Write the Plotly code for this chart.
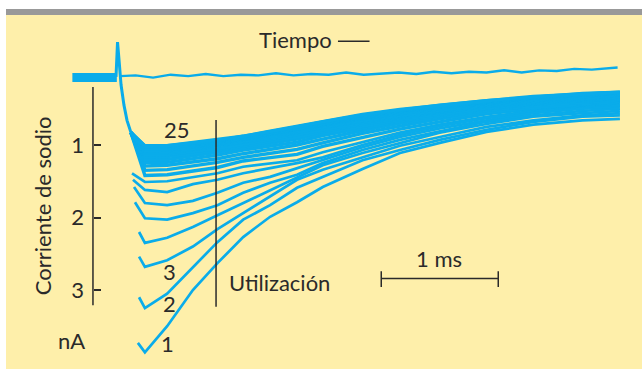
import plotly.graph_objects as go

# ---- data (time in ms from pulse onset, current in nA, inward plotted downward) ----
grid_t = [0.23, 0.42, 0.64, 0.85, 1.07, 1.30, 1.53, 1.75, 2.09, 2.41, 2.75, 3.15, 3.55, 3.97, 4.29]

# pulse number -> (start time, start current, currents on grid_t)
trace_1 = (0.17, 3.73, [3.86, 3.50, 3.00, 2.63, 2.27, 1.99, 1.79, 1.58, 1.33, 1.11, 0.97, 0.82, 0.72, 0.66, 0.64])
trace_2 = (0.18, 3.10, [3.25, 3.05, 2.68, 2.34, 2.03, 1.83, 1.59, 1.44, 1.21, 1.07, 0.93, 0.79, 0.68, 0.61, 0.59])
trace_3 = (0.18, 2.54, [2.68, 2.59, 2.40, 2.16, 1.94, 1.72, 1.48, 1.34, 1.17, 1.01, 0.89, 0.75, 0.66, 0.59, 0.56])
trace_4 = (0.18, 2.20, [2.35, 2.28, 2.13, 1.97, 1.80, 1.62, 1.44, 1.28, 1.11, 0.97, 0.83, 0.71, 0.61, 0.56, 0.53])
trace_5 = (0.145, 1.79, [2.01, 2.03, 1.94, 1.83, 1.66, 1.52, 1.41, 1.25, 1.07, 0.93, 0.81, 0.68, 0.59, 0.53, 0.50])
trace_6 = (0.137, 1.58, [1.80, 1.83, 1.77, 1.66, 1.52, 1.44, 1.32, 1.21, 1.03, 0.89, 0.77, 0.66, 0.56, 0.50, 0.48])
trace_7 = (0.128, 1.48, [1.62, 1.65, 1.54, 1.48, 1.39, 1.32, 1.25, 1.17, 1.00, 0.86, 0.74, 0.63, 0.54, 0.49, 0.46])
trace_8 = (0.12, 1.39, [1.51, 1.50, 1.44, 1.39, 1.30, 1.25, 1.21, 1.10, 0.96, 0.83, 0.72, 0.61, 0.53, 0.48, 0.45])

# later pulses crowd together into a band
band_start = (0.111, 0.83)
band_traces = [
    [1.42, 1.41, 1.36, 1.31, 1.22, 1.17, 1.13, 1.02, 0.90, 0.78, 0.68, 0.57, 0.50, 0.45, 0.42],
    [1.35, 1.34, 1.29, 1.24, 1.17, 1.11, 1.06, 0.97, 0.84, 0.74, 0.64, 0.55, 0.48, 0.43, 0.40],
    [1.29, 1.28, 1.23, 1.19, 1.12, 1.06, 1.00, 0.92, 0.80, 0.70, 0.61, 0.52, 0.46, 0.41, 0.38],
    [1.24, 1.24, 1.19, 1.14, 1.07, 1.01, 0.96, 0.87, 0.77, 0.67, 0.59, 0.50, 0.44, 0.39, 0.37],
    [1.20, 1.20, 1.15, 1.10, 1.04, 0.98, 0.92, 0.84, 0.74, 0.65, 0.57, 0.49, 0.43, 0.38, 0.36],
    [1.17, 1.16, 1.12, 1.07, 1.01, 0.95, 0.89, 0.81, 0.71, 0.63, 0.55, 0.47, 0.42, 0.37, 0.35],
    [1.14, 1.13, 1.09, 1.05, 0.99, 0.92, 0.86, 0.79, 0.69, 0.61, 0.54, 0.46, 0.41, 0.36, 0.34],
    [1.11, 1.11, 1.06, 1.02, 0.96, 0.90, 0.83, 0.76, 0.67, 0.60, 0.53, 0.45, 0.40, 0.35, 0.33],
    [1.09, 1.09, 1.05, 1.00, 0.95, 0.88, 0.82, 0.75, 0.66, 0.59, 0.52, 0.44, 0.39, 0.34, 0.32],
    [1.08, 1.07, 1.03, 0.99, 0.93, 0.87, 0.80, 0.73, 0.64, 0.57, 0.50, 0.43, 0.38, 0.33, 0.31],
    [1.06, 1.06, 1.02, 0.98, 0.92, 0.85, 0.79, 0.72, 0.63, 0.56, 0.49, 0.42, 0.37, 0.32, 0.30],
    [1.05, 1.05, 1.01, 0.97, 0.91, 0.85, 0.78, 0.71, 0.62, 0.55, 0.48, 0.41, 0.36, 0.31, 0.29],
    [1.04, 1.04, 1.00, 0.96, 0.91, 0.84, 0.77, 0.71, 0.61, 0.54, 0.47, 0.41, 0.35, 0.31, 0.29],
    [1.03, 1.03, 0.99, 0.95, 0.90, 0.83, 0.76, 0.70, 0.60, 0.53, 0.47, 0.40, 0.35, 0.30, 0.28],
    [1.02, 1.02, 0.98, 0.94, 0.89, 0.82, 0.75, 0.69, 0.59, 0.52, 0.46, 0.40, 0.34, 0.30, 0.28],
    [1.02, 1.01, 0.98, 0.94, 0.88, 0.82, 0.75, 0.68, 0.59, 0.52, 0.45, 0.39, 0.34, 0.29, 0.27],
    [1.01, 1.01, 0.97, 0.93, 0.88, 0.81, 0.74, 0.68, 0.58, 0.51, 0.45, 0.39, 0.33, 0.29, 0.27],
]

# capacitive spike at pulse onset and the common falling phase
spike_t = [-0.017, -0.004, 0.009, 0.026, 0.051, 0.077, 0.111, 0.154, 0.205]
spike_i = [0.06, -0.42, -0.17, 0.17, 0.45, 0.66, 0.83, 0.93, 0.99]

# holding current before and during the pulse
hold_t = [-0.39, -0.01]
hold_i = [0.07, 0.07]
base_t = [0.02, 0.15, 0.3, 0.45, 0.6, 0.75, 0.9, 1.05, 1.2, 1.35, 1.5, 1.65, 1.8, 1.95, 2.1,
          2.25, 2.4, 2.55, 2.7, 2.85, 3.0, 3.15, 3.3, 3.45, 3.6, 3.75, 3.9, 4.05, 4.2, 4.27]
base_i = [0.05, 0.04, 0.07, 0.03, 0.05, 0.02, 0.05, 0.03, 0.04, 0.01, 0.04, 0.02, 0.03, 0.0, 0.03,
          0.02, 0.0, 0.02, -0.01, 0.01, -0.01, 0.0, -0.03, 0.0, -0.03, -0.02, -0.05, -0.04, -0.06, -0.07]

tick_vals = [1, 2, 3]
tick_text = ["1", "2", "3"]
pulse_labels = [("1", 0.42, 3.74), ("2", 0.44, 3.19), ("3", 0.44, 2.74), ("25", 0.50, 0.78)]
scale_bar_ms = (2.25, 3.25)
utilizacion_t = 0.838

# ---- styling ----
BLUE = "#0AACEA"
INK = "#2A2A2A"
FONT = "Lato, 'Open Sans', sans-serif"
FS = 22
W, H = 642, 369

fig = go.Figure()

def add_line(x, y, width):
    fig.add_trace(go.Scatter(x=x, y=y, mode="lines", line=dict(color=BLUE, width=width),
                             hoverinfo="skip", showlegend=False))

add_line(hold_t, hold_i, 9)
add_line(base_t, base_i, 2.4)

for row in band_traces:
    add_line([band_start[0]] + grid_t, [band_start[1]] + row, 3.4)

for t0, i0, row in [trace_8, trace_7, trace_6, trace_5, trace_4, trace_3, trace_2, trace_1]:
    add_line([t0] + grid_t, [i0] + row, 2.7)

add_line(spike_t, spike_i, 3)

# ---- frame: white top strip, grey rule, pale yellow panel ----
shapes = [
    dict(type="rect", xref="paper", yref="paper", x0=6 / W, x1=1, y0=0, y1=1 - 15 / H,
         fillcolor="#FEEFAA", line_width=0, layer="below"),
    dict(type="rect", xref="paper", yref="paper", x0=6 / W, x1=1, y0=1 - 15 / H, y1=1 - 9 / H,
         fillcolor="#999999", line_width=0, layer="below"),
    # current axis line
    dict(type="line", xref="x", yref="y", x0=-0.214, x1=-0.214, y0=0.2, y1=3.21,
         line=dict(color=INK, width=1.5)),
    # Utilizacion marker
    dict(type="line", xref="x", yref="y", x0=utilizacion_t, x1=utilizacion_t, y0=0.655, y1=3.23,
         line=dict(color=INK, width=1.5)),
    # 1 ms scale bar with end caps
    dict(type="line", xref="x", yref="y", x0=scale_bar_ms[0], x1=scale_bar_ms[1], y0=2.84, y1=2.84,
         line=dict(color=INK, width=1.5)),
    dict(type="line", xref="x", yref="y", x0=scale_bar_ms[0], x1=scale_bar_ms[0], y0=2.74, y1=2.96,
         line=dict(color=INK, width=1.5)),
    dict(type="line", xref="x", yref="y", x0=scale_bar_ms[1], x1=scale_bar_ms[1], y0=2.74, y1=2.96,
         line=dict(color=INK, width=1.5)),
    # dash after "Tiempo"
    dict(type="line", xref="x", yref="y", x0=1.88, x1=2.15, y0=-0.43, y1=-0.43,
         line=dict(color=INK, width=1.5)),
]

annotations = [
    dict(text="Tiempo", x=1.846, y=-0.45, xanchor="right", yanchor="middle"),
    dict(text="Corriente de sodio", x=-0.65, y=1.83, textangle=-90, xanchor="center", yanchor="middle"),
    dict(text="nA", x=-0.40, y=3.70, xanchor="center", yanchor="middle"),
    dict(text="Utilización", x=0.93, y=2.89, xanchor="left", yanchor="middle"),
    dict(text="1 ms", x=2.74, y=2.56, xanchor="center", yanchor="middle"),
]
for txt, tx, ty in pulse_labels:
    annotations.append(dict(text=txt, x=tx, y=ty, xanchor="center", yanchor="middle"))
for a in annotations:
    a.update(xref="x", yref="y", showarrow=False, font=dict(family=FONT, size=FS, color=INK))

fig.update_layout(
    width=W, height=H,
    margin=dict(l=0, r=0, t=0, b=0),
    paper_bgcolor="white",
    plot_bgcolor="rgba(0,0,0,0)",
    shapes=shapes,
    annotations=annotations,
    xaxis=dict(range=[-118 / 117, 524 / 117], visible=False, fixedrange=True),
    yaxis=dict(range=[(H - 72.5) / 72.5, -1.0], anchor="free", position=93 / W,
               showgrid=False, zeroline=False, showline=False,
               tickmode="array", tickvals=tick_vals, ticktext=tick_text,
               ticks="inside", ticklen=7, tickwidth=1.5, tickcolor=INK,
               ticklabelstandoff=9,
               tickfont=dict(family=FONT, size=FS, color=INK), fixedrange=True),
)

fig.write_html("out.html")
